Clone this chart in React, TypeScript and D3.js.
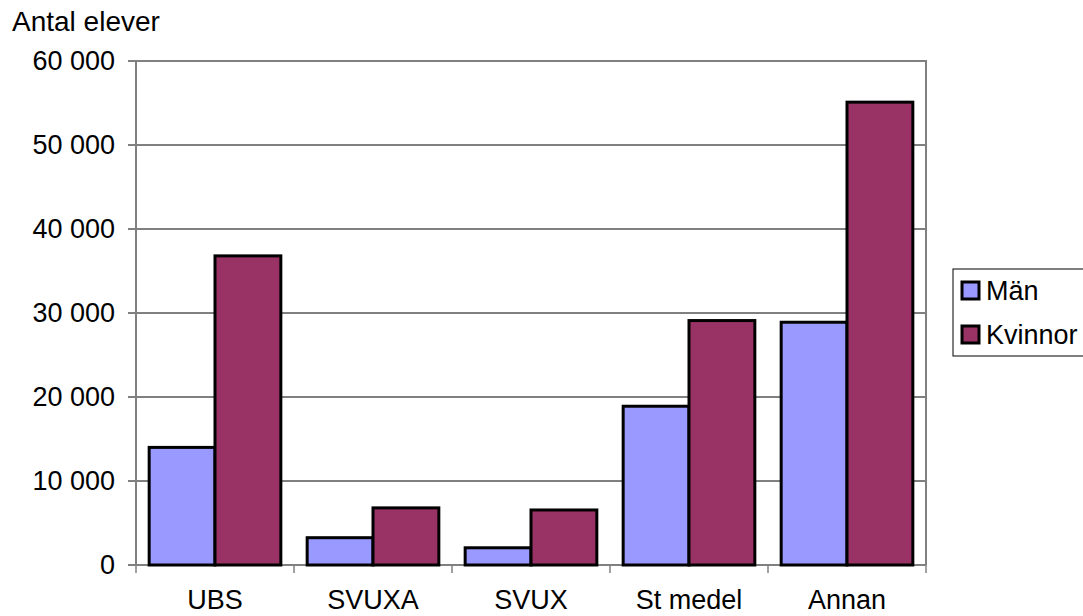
import React from 'react'
import * as d3 from 'd3'

const categories = ['UBS', 'SVUXA', 'SVUX', 'St medel', 'Annan']
const men = [14000, 3250, 2050, 18900, 28900]
const women = [36800, 6800, 6550, 29100, 55100]
const seriesNames = ['Män', 'Kvinnor']
const seriesColors = ['#9999ff', '#993366']
const yTicks = [0, 10000, 20000, 30000, 40000, 50000, 60000]

const W = 1083
const H = 616
const margin = { top: 61, right: 157, bottom: 51, left: 136 }
const FONT = 'Liberation Sans, Arial, sans-serif'
const FS = 27

const fmt = (v: number) => d3.format(',')(v).replace(/,/g, ' ')

export default function App() {
  const x = d3
    .scaleBand<string>()
    .domain(categories)
    .range([margin.left, W - margin.right])
  // two bars per group, a gap on each side
  const inner = d3
    .scaleBand<number>()
    .domain([0, 1])
    .range([0, x.bandwidth()])
    .paddingOuter(0.2)
  const y = d3
    .scaleLinear()
    .domain([0, 60000])
    .range([H - margin.bottom, margin.top])

  const series = [men, women]
  const x0 = margin.left
  const x1 = W - margin.right
  const y0 = y(0)

  return (
    <svg
      width={W}
      height={H}
      style={{ position: 'absolute', left: 0, top: 0, background: '#fff' }}
      fontFamily={FONT}
    >
      <text x={12} y={31} fontSize={28} fill="#000">
        Antal elever
      </text>

      {/* gridlines */}
      {yTicks
        .filter(t => t > 0 && t < 60000)
        .map(t => (
          <line key={t} x1={x0} x2={x1} y1={y(t)} y2={y(t)} stroke="#000" strokeWidth={1} />
        ))}

      {/* y ticks + labels */}
      {yTicks.map(t => (
        <g key={'yt' + t}>
          <line x1={x0 - 8} x2={x0} y1={y(t)} y2={y(t)} stroke="#000" strokeWidth={1} />
          <text x={115} y={y(t)} dy="0.35em" textAnchor="end" fontSize={FS} fill="#000">
            {fmt(t)}
          </text>
        </g>
      ))}

      {/* plot frame */}
      <path
        d={`M${x0},${y0}V${y(60000)}H${x1}V${y0}`}
        fill="none"
        stroke="#808080"
        strokeWidth={2}
      />
      <line x1={x0} x2={x1} y1={y0} y2={y0} stroke="#808080" strokeWidth={2} />

      {/* x ticks */}
      {categories.concat(['end']).map((c, i) => {
        const px = i < categories.length ? (x(c) as number) : x1
        return <line key={'xt' + i} x1={px} x2={px} y1={y0} y2={y0 + 8} stroke="#808080" strokeWidth={1.5} />
      })}

      {/* bars */}
      {categories.map((c, ci) =>
        series.map((s, si) => (
          <rect
            key={c + si}
            x={(x(c) as number) + (inner(si) as number)}
            y={y(s[ci])}
            width={inner.bandwidth()}
            height={y0 - y(s[ci])}
            fill={seriesColors[si]}
            stroke="#000"
            strokeWidth={3}
          />
        ))
      )}

      {/* x labels */}
      {categories.map(c => (
        <text
          key={'xl' + c}
          x={(x(c) as number) + x.bandwidth() / 2}
          y={609}
          textAnchor="middle"
          fontSize={FS}
          fill="#000"
        >
          {c}
        </text>
      ))}

      {/* legend */}
      <g>
        <rect x={953} y={269} width={140} height={87} fill="#fff" stroke="#000" strokeWidth={1} />
        {seriesNames.map((n, i) => (
          <g key={n} transform={`translate(962,${282 + i * 44})`}>
            <rect width={17} height={17} fill={seriesColors[i]} stroke="#000" strokeWidth={3} />
            <text x={24} y={9} dy="0.35em" fontSize={FS} fill="#000">
              {n}
            </text>
          </g>
        ))}
      </g>
    </svg>
  )
}
